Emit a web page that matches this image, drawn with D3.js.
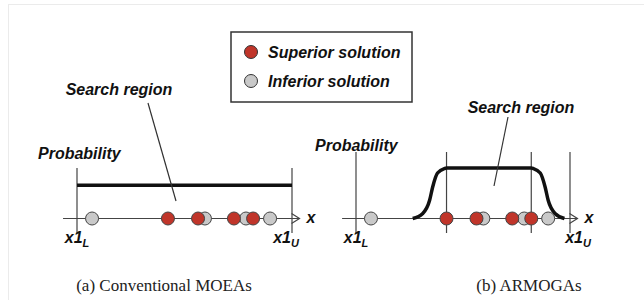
<!DOCTYPE html>
<html>
<head>
<meta charset="utf-8">
<script src="https://cdn.jsdelivr.net/npm/d3@7"></script>
<style>
  body { margin: 0; background: #fff; }
  .lbl { font-family: "Liberation Sans", Arial, sans-serif; font-weight: bold; font-style: italic; font-size: 16px; fill: #111; }
  .cap { font-family: "Liberation Serif", "Times New Roman", serif; font-size: 17px; fill: #222; }
</style>
</head>
<body>
<div id="chart"></div>
<script>
// solutions on x1, as fraction of [x1L, x1U]
const inferior = [0.07, 0.595, 0.786, 0.898];
const superior = [0.423, 0.563, 0.73, 0.819];

// probability over x1
const uniformProb = 0.66;
const armogaX = [0.265, 0.312, 0.344, 0.358, 0.381, 0.414, 0.423, 0.819, 0.828, 0.861, 0.884, 0.898, 0.930, 0.974];
const armogaP = [0, 0.1, 0.36, 0.62, 0.9, 0.99, 1, 1, 0.99, 0.9, 0.62, 0.36, 0.1, 0];

const captions = ["(a) Conventional MOEAs", "(b) ARMOGAs"];
const legendLabels = ["Superior solution", "Inferior solution"];

const RED = "#c0352a", GREY = "#c9c9c9";

const svg = d3.select("#chart").append("svg")
    .attr("width", 644).attr("height", 300);

// faint frame
svg.append("rect")
    .attr("x", 8.5).attr("y", 4.5).attr("width", 640).attr("height", 310)
    .attr("fill", "none").attr("stroke", "#ebebeb");

// legend
var lg = svg.append("g");
lg.append("rect").attr("x", 231).attr("y", 32).attr("width", 181).attr("height", 70)
    .attr("fill", "#fff").attr("stroke", "#333").attr("stroke-width", 1.5);
lg.selectAll("circle").data(legendLabels).enter().append("circle")
    .attr("cx", 251).attr("cy", (d, i) => 52 + i * 29).attr("r", 6.5)
    .attr("fill", (d, i) => i == 0 ? RED : GREY).attr("stroke", "#333");
lg.selectAll("text").data(legendLabels).enter().append("text")
    .attr("class", "lbl").attr("x", 268).attr("y", (d, i) => 52 + i * 29)
    .attr("dy", "0.36em").text(d => d);

var y = d3.scaleLinear().domain([0, 1]).range([218.5, 168]);

var panels = [
    { x1L: 77, x1U: 292, top: 168, lineTop: 168, prob: [0, 1].map(v => ({ x: v, p: uniformProb })),
      searchLbl: [119, 89], leader: [[148, 103], [176, 201]], probLbl: [38, 153], uOff: -6, capX: 164 },
    { x1L: 356, x1U: 570, lineTop: 152, prob: armogaX.map((v, i) => ({ x: v, p: armogaP[i] })),
      searchLbl: [521, 107], leader: [[508, 117], [494, 186]], probLbl: [315, 145], uOff: 8, capX: 529, region: true }
];

panels.forEach((pn, k) => {
    var x = d3.scaleLinear().domain([0, 1]).range([pn.x1L, pn.x1U]);
    var g = svg.append("g");
    var ay = y(0);

    // vertical bounds
    var vlines = [0, 1];
    if (pn.region) vlines = vlines.concat([d3.min(superior), d3.max(superior)]);
    g.selectAll("line.v").data(vlines).enter().append("line")
        .attr("x1", d => x(d)).attr("x2", d => x(d))
        .attr("y1", pn.lineTop).attr("y2", 233)
        .attr("stroke", "#444").attr("stroke-width", 1.2);

    // x axis with open arrow
    var x0 = x(-0.065), x1 = x(1.035);
    g.append("line").attr("x1", x0).attr("x2", x1).attr("y1", ay).attr("y2", ay)
        .attr("stroke", "#444").attr("stroke-width", 1.2);
    g.append("path").attr("d", `M${x1 - 8},${ay - 5}L${x1},${ay}L${x1 - 8},${ay + 5}`)
        .attr("fill", "none").attr("stroke", "#444").attr("stroke-width", 1.2);
    g.append("text").attr("class", "lbl").attr("x", x1 + 7).attr("y", ay).attr("dy", "0.3em").text("x");

    // probability
    var line = d3.line().x(d => x(d.x)).y(d => y(d.p)).curve(d3.curveMonotoneX);
    g.append("path").datum(pn.prob).attr("d", line)
        .attr("fill", "none").attr("stroke", "#111").attr("stroke-width", 3.5);

    // leader + labels
    g.append("line")
        .attr("x1", pn.leader[0][0]).attr("y1", pn.leader[0][1])
        .attr("x2", pn.leader[1][0]).attr("y2", pn.leader[1][1])
        .attr("stroke", "#333").attr("stroke-width", 1.2);
    g.append("text").attr("class", "lbl").attr("x", pn.searchLbl[0]).attr("y", pn.searchLbl[1])
        .attr("dy", "0.36em").attr("text-anchor", "middle").text("Search region");
    g.append("text").attr("class", "lbl").attr("x", pn.probLbl[0]).attr("y", pn.probLbl[1])
        .attr("dy", "0.36em").text("Probability");

    // dots, inferior below superior
    g.selectAll("circle.inf").data(inferior).enter().append("circle")
        .attr("cx", d => x(d)).attr("cy", ay).attr("r", 6.5)
        .attr("fill", GREY).attr("stroke", "#444");
    g.selectAll("circle.sup").data(superior).enter().append("circle")
        .attr("cx", d => x(d)).attr("cy", ay).attr("r", 6.5)
        .attr("fill", RED).attr("stroke", "#444");

    // bound labels
    var tl = g.append("text").attr("class", "lbl").attr("x", x(0)).attr("y", 243).attr("text-anchor", "middle");
    tl.append("tspan").text("x1");
    tl.append("tspan").attr("dy", 4).style("font-size", "11px").text("L");
    var tu = g.append("text").attr("class", "lbl").attr("x", x(1) + pn.uOff).attr("y", 243).attr("text-anchor", "middle");
    tu.append("tspan").text("x1");
    tu.append("tspan").attr("dy", 4).style("font-size", "11px").text("U");

    g.append("text").attr("class", "cap").attr("x", pn.capX).attr("y", 291)
        .attr("text-anchor", "middle").text(captions[k]);
});
</script>
</body>
</html>
